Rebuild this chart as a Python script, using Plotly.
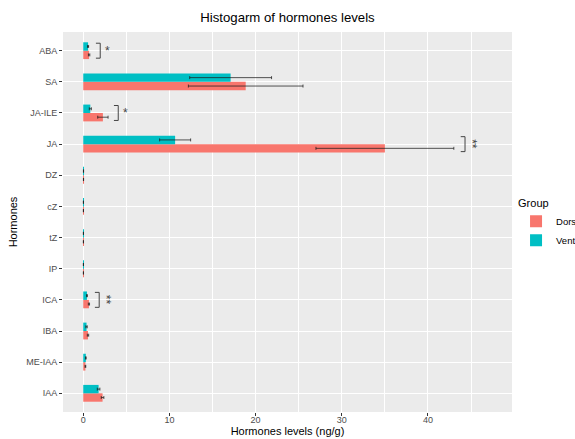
import plotly.graph_objects as go

# ---- data ----
hormones = ["ABA", "SA", "JA-ILE", "JA", "DZ", "cZ", "tZ", "IP", "ICA", "IBA", "ME-IAA", "IAA"]
dorsal_mean = [0.68, 18.85, 2.28, 35.0, 0.03, 0.02, 0.02, 0.02, 0.66, 0.55, 0.25, 2.24]
dorsal_sd = [0.08, 6.65, 0.6, 8.0, 0.01, 0.01, 0.01, 0.01, 0.07, 0.08, 0.04, 0.15]
ventral_mean = [0.56, 17.1, 0.82, 10.66, 0.03, 0.02, 0.02, 0.02, 0.43, 0.38, 0.3, 1.78]
ventral_sd = [0.06, 4.75, 0.12, 1.8, 0.01, 0.01, 0.01, 0.01, 0.05, 0.08, 0.04, 0.15]

sig_hormones = ["ABA", "JA-ILE", "JA", "ICA"]
sig_x = [1.97, 4.06, 44.3, 1.85]
sig_labels = ["*", "*", "**", "**"]

x_ticks = [0, 10, 20, 30, 40]

# bottom-to-top order of categories
cat_order = hormones[::-1]

fig = go.Figure()
fig.add_trace(go.Bar(
    y=hormones, x=dorsal_mean, orientation="h", name="Dorsal",
    marker=dict(color="#F8766D", line=dict(width=0)),
    error_x=dict(type="data", array=dorsal_sd, color="rgba(30,30,30,0.75)", thickness=1, width=1.5),
))
fig.add_trace(go.Bar(
    y=hormones, x=ventral_mean, orientation="h", name="Ventral",
    marker=dict(color="#00BFC4", line=dict(width=0)),
    error_x=dict(type="data", array=ventral_sd, color="rgba(30,30,30,0.75)", thickness=1, width=1.5),
))

# significance brackets
half = 0.24
tick_len = 0.5
for h, xv, lab in zip(sig_hormones, sig_x, sig_labels):
    yi = cat_order.index(h)
    line = dict(color="#444444", width=1)
    fig.add_shape(type="line", xref="x", yref="y", x0=xv, x1=xv, y0=yi - half, y1=yi + half, line=line)
    fig.add_shape(type="line", xref="x", yref="y", x0=xv - tick_len, x1=xv, y0=yi - half, y1=yi - half, line=line)
    fig.add_shape(type="line", xref="x", yref="y", x0=xv - tick_len, x1=xv, y0=yi + half, y1=yi + half, line=line)
    fig.add_annotation(x=xv + 0.8, y=yi, xref="x", yref="y", text=lab, showarrow=False,
                       textangle=90 if len(lab) > 1 else 0,
                       font=dict(size=12, color="#444444", family="Liberation Sans, Arial"))

fig.update_layout(
    width=575, height=439,
    margin=dict(l=63, r=63, t=32, b=27, autoexpand=False),
    paper_bgcolor="white",
    plot_bgcolor="#EBEBEB",
    barmode="group",
    bargap=0.46,
    bargroupgap=0,
    font=dict(family="Liberation Sans, Arial, sans-serif", color="#000000"),
    title=dict(text="Histogarm of hormones levels", x=0.5, xanchor="center", xref="paper",
               y=1 - 17 / 439, yanchor="middle", font=dict(size=13.2, color="black")),
    xaxis=dict(
        range=[-2.35, 49.75], tickvals=x_ticks, ticks="outside", ticklen=3, tickcolor="#333333",
        tickfont=dict(size=9, color="#4D4D4D"), showgrid=True, gridcolor="white", gridwidth=1.1,
        ticklabelstandoff=-4,
        zeroline=False, showline=False,
        minor=dict(dtick=5, tick0=0, showgrid=True, gridcolor="white", gridwidth=0.5, ticks=""),
        title=dict(text="Hormones levels (ng/g)", font=dict(size=11, color="black"), standoff=1),
        automargin=False,
    ),
    yaxis=dict(
        type="category", categoryorder="array", categoryarray=cat_order,
        range=[-0.6, 11.6], ticks="outside", ticklen=3, tickcolor="#333333",
        tickfont=dict(size=9, color="#4D4D4D"), showgrid=True, gridcolor="white", gridwidth=1.1,
        zeroline=False, showline=False,
        title=dict(text="Hormones", font=dict(size=11, color="black"), standoff=6),
        automargin=False,
    ),
    legend=dict(
        title=dict(text="Group", font=dict(size=11, color="black")),
        x=1.009, xanchor="left", y=0.578, yanchor="top",
        font=dict(size=9.5, color="black"), bgcolor="rgba(0,0,0,0)",
        traceorder="normal", itemwidth=30,
    ),
)

fig.write_html("out.html", config={"displayModeBar": False},
               post_script="document.body.style.margin='0';document.body.style.overflow='hidden';")
